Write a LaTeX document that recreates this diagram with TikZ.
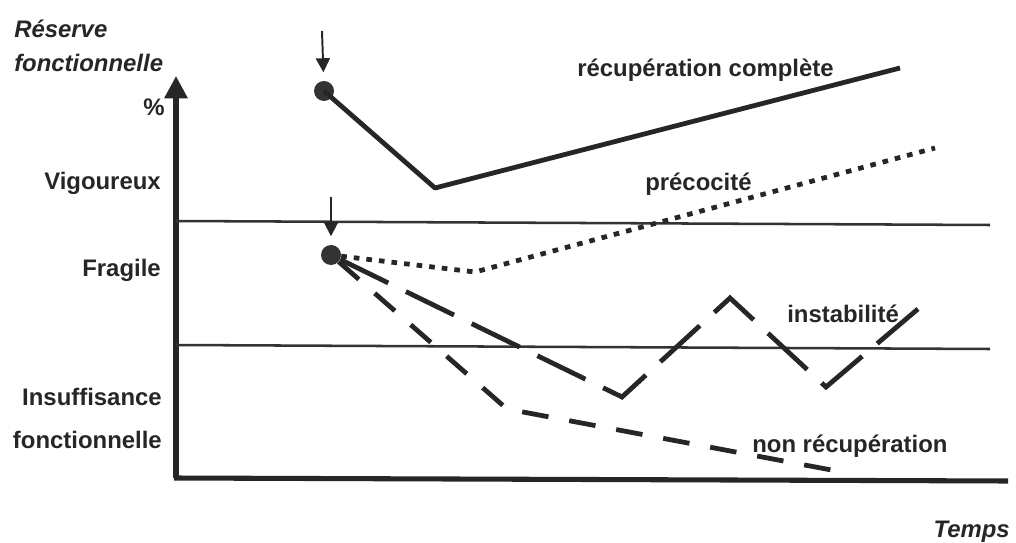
\documentclass[tikz,border=0pt]{standalone}
\usepackage{fontspec}
\setmainfont{Liberation Sans}
\usetikzlibrary{arrows.meta}
\begin{document}
\begin{tikzpicture}[x=0.025cm, y=-0.025cm,
    lbl/.style={font=\bfseries\fontsize{17}{20}\selectfont, inner sep=0pt, text=black!85},
    ilbl/.style={lbl, font=\bfseries\itshape\fontsize{17}{20}\selectfont},
    axis/.style={line width=3.6pt, draw=black!85},
    level/.style={line width=1.8pt, draw=black!80},
    complete/.style={line width=3.4pt, draw=black!85, line join=round},
    early/.style={line width=3.4pt, draw=black!85, dash pattern=on 4pt off 5pt},
    unstable/.style={line width=3.4pt, draw=black!85, dash pattern=on 38pt off 14pt},
    norecov/.style={line width=3.4pt, draw=black!85, dash pattern=on 19pt off 15pt},
    dot/.style={circle, fill=black!80, minimum size=0.5cm, inner sep=0pt},
    hit/.style={-{Triangle[length=10pt,width=10pt]}, line width=1.4pt, draw=black!85}
  ]
  \useasboundingbox (0,0) rectangle (1016,543);

  % Axes
  \coordinate (o) at (176,478);
  \coordinate (ytop) at (176,76);
  \coordinate (xend) at (1008,481);
  \draw[axis, -{Triangle[length=16pt,width=16pt]}] (o) -- (ytop);
  \draw[axis] ([xshift=-1.3pt]o) -- (xend);

  % Thresholds
  \coordinate (v0) at (176,221);
  \coordinate (v1) at (990,225);
  \coordinate (f0) at (176,345);
  \coordinate (f1) at (990,349);
  \draw[level] (v0) -- (v1);
  \draw[level] (f0) -- (f1);

  % Axis labels
  \node[ilbl, anchor=base west] (res) at (14,38) {Réserve};
  \node[ilbl, anchor=base west] (fonc) at (14,72) {fonctionnelle};
  \node[lbl, anchor=base east] (pct) at (165,116) {\%};
  \node[lbl, anchor=base east] (vig) at (161,190) {Vigoureux};
  \node[lbl, anchor=base east] (fra) at (161,276) {Fragile};
  \node[lbl, anchor=base east] (ins) at (162,405) {Insuffisance};
  \node[lbl, anchor=base east] (insf) at (162,448) {fonctionnelle};
  \node[ilbl, anchor=base east] (tps) at (1010,537) {Temps};

  % Events
  \node[dot] (d1) at (324,91) {};
  \node[dot] (d2) at (331,255) {};
  \coordinate (a1) at (322,31);
  \coordinate (a2) at (331,197);
  \draw[hit, shorten >=6pt] (a1) -- (d1);
  \draw[hit, shorten >=6pt] (a2) -- (d2);

  % Trajectories
  \coordinate (c1) at (435,188);
  \coordinate (c2) at (900,68);
  \draw[complete] (d1.center) -- (c1) -- (c2);

  \coordinate (p1) at (475,272);
  \coordinate (p2) at (935,148);
  \draw[early] (d2) -- (p1) -- (p2);

  \coordinate (i1) at (622,397);
  \coordinate (i2) at (730,298);
  \coordinate (i3) at (826,387);
  \coordinate (i4) at (925,303);
  \draw[unstable] (d2) -- (i1) -- (i2) -- (i3) -- (i4);

  \coordinate (n1) at (507,409);
  \coordinate (n2) at (842,472);
  \draw[norecov] (d2) -- (n1) -- (n2);

  % Curve labels
  \node[lbl, anchor=base west] (lc) at (577,77) {récupération complète};
  \node[lbl, anchor=base west] (lp) at (645,191) {précocité};
  \node[lbl, anchor=base west] (li) at (787,322) {instabilité};
  \node[lbl, anchor=base west] (ln) at (752,452) {non récupération};
\end{tikzpicture}
\end{document}
